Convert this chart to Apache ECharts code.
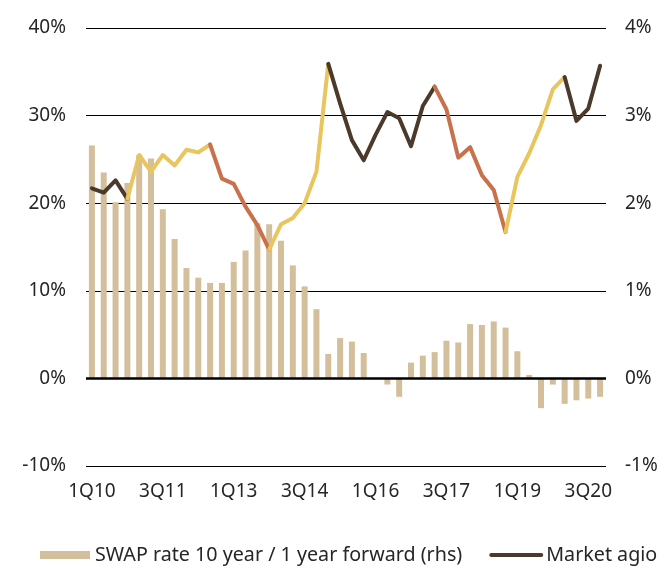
<!DOCTYPE html>
<html>
<head>
<meta charset="utf-8">
<script src="https://cdn.jsdelivr.net/npm/echarts@6/dist/echarts.min.js"></script>
<style>
  html, body { margin: 0; padding: 0; background: #fff; }
  #chart { width: 666px; height: 568px; }
</style>
</head>
<body>
<div id="chart"></div>
<script>
// quarters 1Q10 .. 4Q20
const quarters = [];
for (let y = 10; y <= 20; y++) {
  for (let q = 1; q <= 4; q++) quarters.push(q + 'Q' + y);
}

// SWAP rate 10y / 1y forward, % (right axis)
const swapRate = [
  2.66, 2.35, 2.01, 2.23, 2.55, 2.51, 1.93, 1.59, 1.26, 1.15,
  1.09, 1.09, 1.33, 1.46, 1.77, 1.76, 1.57, 1.29, 1.05, 0.79,
  0.28, 0.46, 0.42, 0.29, null, -0.07, -0.21, 0.18, 0.26, 0.30,
  0.43, 0.41, 0.62, 0.61, 0.65, 0.58, 0.31, 0.04, -0.34, -0.07,
  -0.29, -0.25, -0.23, -0.21
];

// Market agio, % (left axis)
const marketAgio = [
  21.7, 21.2, 22.6, 20.5, 25.5, 23.6, 25.5, 24.3, 26.1, 25.8,
  26.7, 22.8, 22.2, 19.6, 17.5, 14.7, 17.6, 18.3, 20.0, 23.6,
  35.9, 31.4, 27.2, 24.9, 27.8, 30.4, 29.7, 26.5, 31.1, 33.3,
  30.7, 25.2, 26.4, 23.2, 21.5, 16.7, 23.0, 25.7, 28.9, 33.0,
  34.4, 29.4, 30.8, 35.7
];

// colour runs of the agio line: [from index, to index, phase]
const agioRuns = [
  [0, 3, 'flat'], [3, 10, 'up'], [10, 15, 'down'], [15, 20, 'up'],
  [20, 29, 'flat'], [29, 35, 'down'], [35, 40, 'up'], [40, 43, 'flat']
];

const phaseColor = { flat: '#4b3a2b', up: '#e8c55e', down: '#c8714c' };
const barColor = '#d3bf9b';
const textColor = '#262626';
const font = 'Noto Sans';

const lineSeries = agioRuns.map(function (r) {
  const data = marketAgio.map(function (v, i) {
    return (i >= r[0] && i <= r[1]) ? v : null;
  });
  return {
    name: r[2] === 'flat' ? 'Market agio' : 'agio ' + r[2],
    type: 'line',
    yAxisIndex: 0,
    data: data,
    symbol: 'none',
    connectNulls: false,
    lineStyle: { color: phaseColor[r[2]], width: 4, cap: 'round', join: 'round' },
    itemStyle: { color: phaseColor[r[2]] },
    z: 5
  };
});

const chart = echarts.init(document.getElementById('chart'));
chart.setOption({
  animation: false,
  textStyle: { fontFamily: font, color: textColor },
  grid: { left: 86, right: 60, top: 28, bottom: 102 },
  legend: {
    data: [
      { name: 'SWAP rate 10 year / 1 year forward (rhs)', icon: 'rect' },
      {
        name: 'Market agio',
        itemStyle: { opacity: 0 },
        lineStyle: { color: phaseColor.flat, width: 4, cap: 'round' }
      }
    ],
    bottom: -2,
    left: 35,
    itemWidth: 50,
    itemHeight: 8,
    itemGap: 27,
    textStyle: { fontFamily: font, fontSize: 19.7, color: textColor }
  },
  xAxis: {
    type: 'category',
    data: quarters,
    boundaryGap: true,
    axisLine: { show: false },
    axisTick: { show: false },
    axisLabel: {
      interval: 5,
      margin: 16,
      fontSize: 19,
      color: textColor,
      fontFamily: font
    },
    splitLine: { show: false }
  },
  yAxis: [
    {
      type: 'value',
      min: -10, max: 40, interval: 10,
      axisLine: { show: false },
      axisTick: { show: false },
      axisLabel: { formatter: '{value}%', margin: 20, fontSize: 19, color: textColor, fontFamily: font },
      splitLine: { lineStyle: { color: '#000', width: 1 } }
    },
    {
      type: 'value',
      min: -1, max: 4, interval: 1,
      axisLine: { show: false },
      axisTick: { show: false },
      axisLabel: { formatter: '{value}%', margin: 19, fontSize: 19, color: textColor, fontFamily: font },
      splitLine: { show: false }
    }
  ],
  series: [
    {
      name: 'SWAP rate 10 year / 1 year forward (rhs)',
      type: 'bar',
      yAxisIndex: 1,
      data: swapRate,
      barWidth: 6,
      itemStyle: { color: barColor },
      z: 2,
      markLine: {
        silent: true,
        symbol: 'none',
        label: { show: false },
        lineStyle: { color: '#000', width: 2.5, type: 'solid' },
        data: [{ yAxis: 0 }]
      }
    }
  ].concat(lineSeries)
});
</script>
</body>
</html>
